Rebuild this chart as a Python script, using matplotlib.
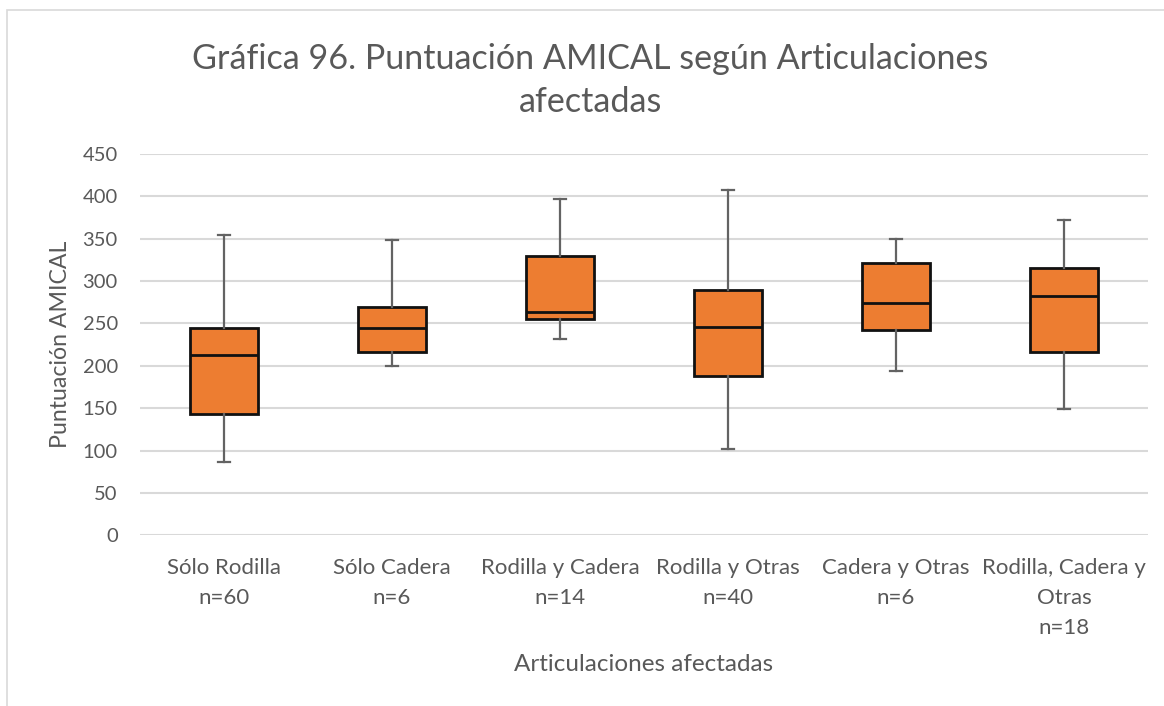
import matplotlib
matplotlib.use("Agg")
import matplotlib.pyplot as plt
from matplotlib.patches import Rectangle

# values
categories = ["Sólo Rodilla\nn=60", "Sólo Cadera\nn=6", "Rodilla y Cadera\nn=14",
              "Rodilla y Otras\nn=40", "Cadera y Otras\nn=6", "Rodilla, Cadera y\nOtras\nn=18"]
mins = [87, 200, 232, 102, 194, 149]
q1s = [143, 216, 255, 188, 242, 216]
medians = [213, 245, 263, 246, 274, 282]
q3s = [245, 270, 330, 290, 321, 316]
maxs = [354, 348, 397, 408, 350, 372]

TEXT_COLOR = "#595959"
FONT = "Lato"

stats = []
for i in range(len(categories)):
    stats.append({"whislo": mins[i], "q1": q1s[i], "med": medians[i],
                  "q3": q3s[i], "whishi": maxs[i], "fliers": []})

fig = plt.figure(figsize=(11.64, 7.06), dpi=100)
ax = fig.add_axes([0.1203, 0.2418, 0.8660, 0.5401])

# outer chart border
fig.patches.append(Rectangle((7 / 1164, -0.1), 1.2, 1 - 10 / 706 + 0.1,
                             transform=fig.transFigure, fill=False,
                             edgecolor="#D9D9D9", linewidth=1.2))

ax.bxp(stats, positions=range(len(categories)), widths=0.4, patch_artist=True,
       showfliers=False, capwidths=0.075,
       boxprops=dict(facecolor="#ED7D31", edgecolor="#111111", linewidth=2),
       medianprops=dict(color="#111111", linewidth=2),
       whiskerprops=dict(color="#636363", linewidth=1.6),
       capprops=dict(color="#636363", linewidth=1.6))

ax.set_xlim(-0.5, len(categories) - 0.5)
ax.set_ylim(0, 450)
ax.set_yticks(range(0, 451, 50))
ax.yaxis.grid(True, color="#D9D9D9", linewidth=1.5)
ax.set_axisbelow(True)
for s in ax.spines.values():
    s.set_visible(False)
ax.tick_params(axis="both", length=0, colors=TEXT_COLOR)
ax.tick_params(axis="y", pad=16, labelsize=14.5)
ax.tick_params(axis="x", pad=16, labelsize=16)
ax.set_xticks(range(len(categories)))
ax.set_xticklabels(categories, linespacing=1.63)
for lbl in ax.get_xticklabels() + ax.get_yticklabels():
    lbl.set_fontfamily(FONT)

ax.set_ylabel("Puntuación AMICAL", fontsize=16.7, color=TEXT_COLOR, family=FONT, labelpad=8)
ax.set_xlabel("Articulaciones afectadas", fontsize=17.5, color=TEXT_COLOR, family=FONT, labelpad=12)

fig.text(0.507, 0.886, "Gráfica 96. Puntuación AMICAL según Articulaciones\nafectadas",
         ha="center", va="center", fontsize=24.6, color=TEXT_COLOR, family=FONT, linespacing=1.44)

fig.savefig("out.png", dpi=100)
